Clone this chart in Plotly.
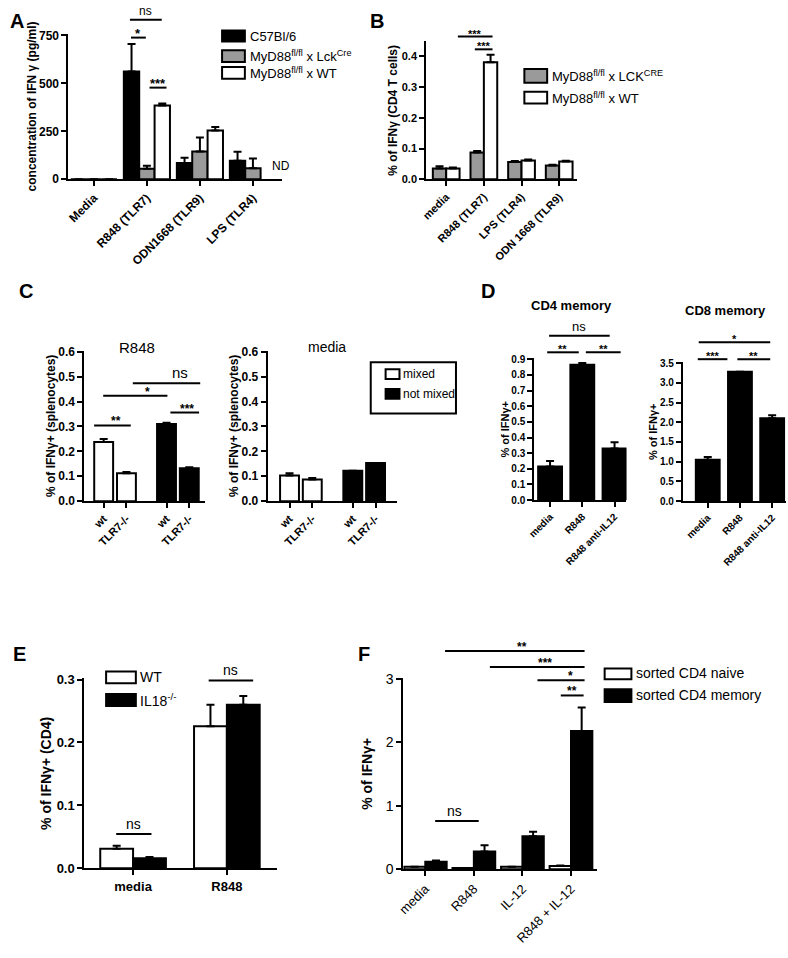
import plotly.graph_objects as go

W, H = 788, 958
FONT = "Liberation Sans, Arial, Helvetica, sans-serif"

# ---------------- data ----------------
a_categories = ["Media", "R848 (TLR7)", "ODN1668 (TLR9)", "LPS (TLR4)"]
a_c57bl6 = [0, 562, 85, 97]
a_c57bl6_err = [0, 143, 27, 46]
a_lck_cre = [0, 55, 145, 57]
a_lck_cre_err = [0, 15, 73, 51]
a_wt = [0, 385, 255, None]          # LPS: ND
a_wt_err = [0, 10, 17, 0]

b_categories = ["media", "R848 (TLR7)", "LPS (TLR4)", "ODN 1668 (TLR9)"]
b_lck_cre = [0.035, 0.087, 0.056, 0.045]
b_lck_cre_err = [0.007, 0.005, 0.003, 0.002]
b_wt = [0.035, 0.380, 0.061, 0.058]
b_wt_err = [0.003, 0.025, 0.003, 0.002]

c_genotypes = ["wt", "TLR7-/-"]
c_r848_mixed = [0.238, 0.112]
c_r848_mixed_err = [0.012, 0.005]
c_r848_not_mixed = [0.310, 0.132]
c_r848_not_mixed_err = [0.005, 0.004]
c_media_mixed = [0.103, 0.087]
c_media_mixed_err = [0.009, 0.006]
c_media_not_mixed = [0.122, 0.153]
c_media_not_mixed_err = [0, 0]

d_categories = ["media", "R848", "R848 anti-IL12"]
d_cd4_memory = [0.215, 0.865, 0.330]
d_cd4_memory_err = [0.035, 0.010, 0.040]
d_cd8_memory = [1.05, 3.28, 2.10]
d_cd8_memory_err = [0.07, 0.0, 0.08]

e_categories = ["media", "R848"]
e_wt = [0.031, 0.226]
e_wt_err = [0.005, 0.034]
e_il18 = [0.016, 0.260]
e_il18_err = [0.002, 0.014]

f_categories = ["media", "R848", "IL-12", "R848 + IL-12"]
f_naive = [0.04, 0.02, 0.04, 0.05]
f_naive_err = [0, 0, 0, 0.01]
f_memory = [0.12, 0.28, 0.52, 2.18]
f_memory_err = [0.02, 0.10, 0.07, 0.37]

# ---------------- layout geometry (reference pixels) ----------------
P = {
    "A":  dict(n=1, px=(62, 277), py=(27, 175), xr=(-0.48, 3.54), yr=(0, 760)),
    "B":  dict(n=2, px=(423, 575), py=(35, 175), xr=(-0.53, 3.47), yr=(0, 0.448)),
    "C1": dict(n=3, px=(78, 200), py=(349, 502), xr=(-0.85, 4.46), yr=(0, 0.605)),
    "C2": dict(n=4, px=(263, 393), py=(349, 502), xr=(-0.96, 4.70), yr=(0, 0.605)),
    "D1": dict(n=5, px=(532, 625), py=(357, 501), xr=(-0.49, 2.37), yr=(0, 0.905)),
    "D2": dict(n=6, px=(682, 786), py=(361, 502), xr=(-0.77, 2.43), yr=(0, 3.52)),
    "E":  dict(n=7, px=(78, 272), py=(682, 875), xr=(-0.52, 1.53), yr=(0, 0.302)),
    "F":  dict(n=8, px=(400, 595), py=(682, 876), xr=(-0.45, 3.53), yr=(0, 3.01)),
}

BLACK, GRAY, WHITE = "#000000", "#9a9a9a", "#ffffff"
fig = go.Figure()
shapes, annotations = [], []


def pxx(x):
    return x / W


def pxy(y):
    return 1 - y / H


def ref(key):
    n = P[key]["n"]
    return ("x" if n == 1 else f"x{n}"), ("y" if n == 1 else f"y{n}")


def add_bar(key, x, y, err, color, width, offset):
    xr, yr = ref(key)
    fig.add_trace(go.Bar(
        x=x, y=y, xaxis=xr, yaxis=yr, width=width, offset=offset,
        marker=dict(color=color, line=dict(color=BLACK, width=2)),
        error_y=dict(type="data", symmetric=False, array=err,
                     arrayminus=[0] * len(err), color=BLACK, thickness=2, width=4),
        showlegend=False, hoverinfo="x+y"))


def to_px(key, x, y):
    p = P[key]
    (x0, x1), (y0, y1), (a0, a1), (b0, b1) = p["px"], p["py"], p["xr"], p["yr"]
    return x0 + (x - a0) / (a1 - a0) * (x1 - x0), y1 - (y - b0) / (b1 - b0) * (y1 - y0)


def text_px(x, y, text, size=12, bold=False, xanchor="center", yanchor="middle",
            angle=0, yshift=0):
    annotations.append(dict(
        xref="paper", yref="paper", x=pxx(x), y=pxy(y), text=text, showarrow=False,
        xanchor=xanchor, yanchor=yanchor, textangle=angle, yshift=yshift,
        font=dict(family=FONT, size=size, color=BLACK,
                  weight="bold" if bold else "normal")))


def bracket(key, xa, xb, y, text, tx=None, size=12):
    X0, Y = to_px(key, xa, y)
    X1, _ = to_px(key, xb, y)
    shapes.append(dict(type="line", xref="paper", yref="paper", x0=pxx(X0), x1=pxx(X1),
                       y0=pxy(Y), y1=pxy(Y), line=dict(color=BLACK, width=2)))
    TX = (X0 + X1) / 2 if tx is None else to_px(key, tx, y)[0]
    star = "*" in text
    text_px(TX, Y, text, size=size, bold=star, yanchor="bottom",
            yshift=-5 if star else 0)


def rect_px(x0, y0, x1, y1, fill, lw=2):
    shapes.append(dict(type="rect", xref="paper", yref="paper", x0=pxx(x0), x1=pxx(x1),
                       y0=pxy(y1), y1=pxy(y0), fillcolor=fill,
                       line=dict(color=BLACK, width=lw)))


# ---------------- A ----------------
wa = 0.29
add_bar("A", a_categories, a_c57bl6, a_c57bl6_err, BLACK, wa, -1.5 * wa)
add_bar("A", a_categories, a_lck_cre, a_lck_cre_err, GRAY, wa, -0.5 * wa)
add_bar("A", a_categories, a_wt, a_wt_err, WHITE, wa, 0.5 * wa)
bracket("A", 0.68, 1.28, 832, "ns", size=12)
bracket("A", 0.70, 0.98, 739, "*", size=13)
bracket("A", 1.05, 1.37, 478, "***", size=13)
text_px(276, 162, "ND", size=12)

# ---------------- B ----------------
wb = 0.355
add_bar("B", b_categories, b_lck_cre, b_lck_cre_err, GRAY, wb, -wb)
add_bar("B", b_categories, b_wt, b_wt_err, WHITE, wb, 0)
bracket("B", 0.31, 1.23, 0.464, "***", size=11)
bracket("B", 0.76, 1.23, 0.4224, "***", size=11)

# ---------------- C ----------------
wc = 0.83
c1_step, c2_step = 2.76, 2.78
c1_pos = [g * c1_step + i for g in range(2) for i in range(len(c_genotypes))]
c2_pos = [g * c2_step + i for g in range(2) for i in range(len(c_genotypes))]
add_bar("C1", c1_pos[:2], c_r848_mixed, c_r848_mixed_err, WHITE, wc, -wc / 2)
add_bar("C1", c1_pos[2:], c_r848_not_mixed, c_r848_not_mixed_err, BLACK, wc, -wc / 2)
add_bar("C2", c2_pos[:2], c_media_mixed, c_media_mixed_err, WHITE, wc, -wc / 2)
add_bar("C2", c2_pos[2:], c_media_not_mixed, c_media_not_mixed_err, BLACK, wc, -wc / 2)
bracket("C1", -0.42, 1.19, 0.304, "**", tx=0.55, size=12)
bracket("C1", -0.02, 2.80, 0.423, "*", tx=1.93, size=12)
bracket("C1", 1.28, 4.24, 0.474, "ns", tx=3.37, size=15)
bracket("C1", 2.93, 4.19, 0.356, "***", tx=3.67, size=12)

# ---------------- D ----------------
wd = 0.74
add_bar("D1", d_categories, d_cd4_memory, d_cd4_memory_err, BLACK, wd, -wd / 2)
add_bar("D2", d_categories, d_cd8_memory, d_cd8_memory_err, BLACK, wd, -wd / 2)
bracket("D1", -0.03, 1.85, 1.05, "ns", size=13)
bracket("D1", -0.09, 0.89, 0.944, "**", size=11)
bracket("D1", 1.11, 2.19, 0.944, "**", size=11)
bracket("D2", -0.28, 1.94, 4.03, "*", size=11)
bracket("D2", -0.31, 0.61, 3.60, "***", size=11)
bracket("D2", 0.92, 1.94, 3.60, "**", size=11)

# ---------------- E ----------------
we = 0.35
add_bar("E", e_categories, e_wt, e_wt_err, WHITE, we, -we)
add_bar("E", e_categories, e_il18, e_il18_err, BLACK, we, 0)
bracket("E", -0.18, 0.196, 0.0544, "ns", size=14)
bracket("E", 0.806, 1.28, 0.2986, "ns", size=14)

# ---------------- F ----------------
wf = 0.44
add_bar("F", f_categories, f_naive, f_naive_err, WHITE, wf, -wf)
add_bar("F", f_categories, f_memory, f_memory_err, BLACK, wf, 0)
bracket("F", 0.407, 3.28, 3.44, "**", tx=2.0, size=12)
bracket("F", 1.33, 3.28, 3.19, "***", tx=2.47, size=12)
bracket("F", 2.31, 3.28, 2.98, "*", tx=2.98, size=12)
bracket("F", 2.79, 3.26, 2.74, "**", tx=3.02, size=12)
bracket("F", 0.203, 1.10, 0.76, "ns", tx=0.61, size=14)

# ---------------- legends ----------------
rect_px(217, 24, 240, 35, BLACK)
text_px(243, 30, "C57Bl/6", size=13, xanchor="left")
rect_px(217, 44, 240, 56, GRAY)
text_px(243, 50, "MyD88<sup>fl/fl</sup> x Lck<sup>Cre</sup>", size=13, xanchor="left")
rect_px(217, 61, 240, 73, WHITE)
text_px(243, 67, "MyD88<sup>fl/fl</sup> x WT", size=13, xanchor="left")

rect_px(522, 63, 545, 77, GRAY)
text_px(548, 70, "MyD88<sup>fl/fl</sup> x LCK<sup>CRE</sup>", size=13, xanchor="left")
rect_px(522, 86, 545, 98, WHITE)
text_px(548, 92, "MyD88<sup>fl/fl</sup> x WT", size=13, xanchor="left")

rect_px(367, 361, 453, 413, WHITE)
rect_px(382, 368, 396, 378, WHITE)
text_px(398, 373, "mixed", size=12, xanchor="left")
rect_px(382, 388, 396, 398, BLACK)
text_px(398, 393, "not mixed", size=12, xanchor="left")

rect_px(100, 675, 130, 687, WHITE)
text_px(132, 681, "WT", size=14, xanchor="left")
rect_px(100, 698, 130, 710, BLACK)
text_px(132, 704, "IL18<sup>-/-</sup>", size=14, xanchor="left")

rect_px(603, 672, 630, 683, WHITE)
text_px(633, 677, "sorted CD4 naive", size=14, xanchor="left")
rect_px(603, 693, 630, 706, BLACK)
text_px(633, 699, "sorted CD4 memory", size=14, xanchor="left")

# ---------------- titles / labels ----------------
text_px(131, 346, "R848", size=15)
text_px(323, 345, "media", size=14)
text_px(570, 303, "CD4 memory", size=13, bold=True)
text_px(725, 308, "CD8 memory", size=13, bold=True)

for letter, x, y in [("A", 10, 14), ("B", 373, 14), ("C", 19, 289),
                     ("D", 485, 289), ("E", 13, 657), ("F", 360, 657)]:
    text_px(x, y, letter, size=20, bold=True)

# ---------------- axes ----------------
def axis_base():
    return dict(showline=True, linecolor=BLACK, linewidth=2, ticks="outside",
                ticklen=5, tickwidth=2, tickcolor=BLACK, showgrid=False,
                zeroline=False, fixedrange=True)

xspec = {
    "A": dict(type="category", categoryorder="array", categoryarray=a_categories,
              tickangle=-45, tickfont=dict(size=12, weight="bold")),
    "B": dict(type="category", categoryorder="array", categoryarray=b_categories,
              tickangle=-45, tickfont=dict(size=11, weight="bold")),
    "C1": dict(tickmode="array", tickvals=c1_pos, ticktext=c_genotypes * 2,
               tickangle=-45, tickfont=dict(size=11, weight="bold")),
    "C2": dict(tickmode="array", tickvals=c2_pos, ticktext=c_genotypes * 2,
               tickangle=-45, tickfont=dict(size=11, weight="bold")),
    "D1": dict(type="category", categoryorder="array", categoryarray=d_categories,
               tickangle=-45, tickfont=dict(size=10, weight="bold")),
    "D2": dict(type="category", categoryorder="array", categoryarray=d_categories,
               tickangle=-45, tickfont=dict(size=10, weight="bold")),
    "E": dict(type="category", categoryorder="array", categoryarray=e_categories,
              tickangle=0, tickfont=dict(size=13, weight="bold")),
    "F": dict(type="category", categoryorder="array", categoryarray=f_categories,
              tickangle=-45, tickfont=dict(size=13)),
}
yspec = {
    "A": dict(tickvals=[0, 250, 500, 750], tickfont=dict(size=12, weight="bold"),
              title=dict(text="concentration of IFN γ (pg/ml)", standoff=0,
                         font=dict(size=12, weight="bold"))),
    "B": dict(dtick=0.1, tick0=0, tickformat=".1f", tickfont=dict(size=11, weight="bold"),
              title=dict(text="% of IFNγ (CD4 T cells)", standoff=2,
                         font=dict(size=12, weight="bold"))),
    "C1": dict(dtick=0.1, tick0=0, tickformat=".1f", tickfont=dict(size=12, weight="bold"),
               title=dict(text="% of IFNγ+ (splenocytes)", standoff=0,
                          font=dict(size=12, weight="bold"))),
    "C2": dict(dtick=0.1, tick0=0, tickformat=".1f", tickfont=dict(size=12, weight="bold"),
               title=dict(text="% of IFNγ+ (splenocytes)", standoff=0,
                          font=dict(size=12, weight="bold"))),
    "D1": dict(dtick=0.1, tick0=0, tickformat=".1f", tickfont=dict(size=10, weight="bold"),
               title=dict(text="% of IFNγ+", standoff=0,
                          font=dict(size=11, weight="bold"))),
    "D2": dict(dtick=0.5, tick0=0, tickformat=".1f", tickfont=dict(size=10, weight="bold"),
               title=dict(text="% of IFNγ+", standoff=0,
                          font=dict(size=11, weight="bold"))),
    "E": dict(dtick=0.1, tick0=0, tickformat=".1f", tickfont=dict(size=13, weight="bold"),
              title=dict(text="% of IFNγ+ (CD4)", standoff=2,
                         font=dict(size=14, weight="bold"))),
    "F": dict(dtick=1, tick0=0, tickfont=dict(size=14),
              title=dict(text="% of IFNγ+", standoff=10,
                         font=dict(size=14, weight="bold"))),
}

layout_axes = {}
for key, p in P.items():
    n = p["n"]
    sx = "" if n == 1 else str(n)
    xa = axis_base()
    xa.update(xspec[key])
    xa.update(domain=[pxx(p["px"][0]), pxx(p["px"][1])], range=list(p["xr"]),
              anchor="y" + sx)
    ya = axis_base()
    ya.update(yspec[key])
    ya.update(domain=[pxy(p["py"][1]), pxy(p["py"][0])], range=list(p["yr"]),
              anchor="x" + sx)
    for ax in (xa, ya):
        ax["tickfont"] = dict(family=FONT, color=BLACK, **ax["tickfont"])
    ya["title"]["font"] = dict(family=FONT, color=BLACK, **ya["title"]["font"])
    layout_axes["xaxis" + sx] = xa
    layout_axes["yaxis" + sx] = ya

fig.update_layout(
    width=W, height=H, margin=dict(l=0, r=0, t=0, b=0),
    paper_bgcolor="white", plot_bgcolor="rgba(0,0,0,0)",
    barmode="overlay", showlegend=False, hovermode=False,
    font=dict(family=FONT, color=BLACK),
    shapes=shapes, annotations=annotations, **layout_axes)

# remove the default 8px page margin so the figure fills the window exactly
fig.write_html("out.html", config={"displayModeBar": False, "staticPlot": True},
               post_script="document.body.style.margin='0px';"
                           "document.body.style.overflow='hidden';")
